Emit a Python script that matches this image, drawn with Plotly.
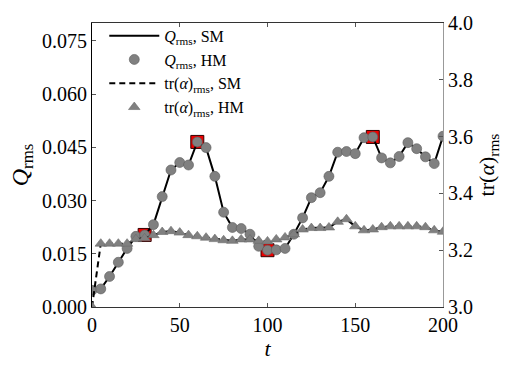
import plotly.graph_objects as go

# Sampling times
t = [0, 5, 10, 15, 20, 25, 30, 35, 40, 45, 50, 55, 60, 65, 70, 75, 80, 85, 90, 95,
     100, 105, 110, 115, 120, 125, 130, 135, 140, 145, 150, 155, 160, 165, 170, 175,
     180, 185, 190, 195, 200]

# RMS of Q (left axis)
q_rms = [0.0047, 0.0051, 0.0086, 0.0126, 0.0165, 0.0199, 0.0203, 0.0232, 0.0311, 0.0386,
         0.0407, 0.0400, 0.0465, 0.0449, 0.0368, 0.0267, 0.0224, 0.0221, 0.0205, 0.0171,
         0.0160, 0.0161, 0.0165, 0.0205, 0.0251, 0.0308, 0.0322, 0.0368, 0.0436, 0.0438,
         0.0432, 0.0477, 0.0479, 0.0420, 0.0406, 0.0424, 0.0463, 0.0446, 0.0423, 0.0404,
         0.0481]

# RMS of tr(alpha) (right axis)
tr_rms = [3.000, 3.223, 3.223, 3.223, 3.223, 3.239, 3.242, 3.253, 3.264, 3.267,
          3.262, 3.253, 3.249, 3.244, 3.239, 3.235, 3.233, 3.238, 3.238, 3.233,
          3.231, 3.238, 3.245, 3.256, 3.273, 3.278, 3.278, 3.280, 3.300, 3.309,
          3.284, 3.270, 3.273, 3.281, 3.284, 3.284, 3.284, 3.284, 3.281, 3.270,
          3.265]

# Snapshot times highlighted on the Q curve
snap_t = [30, 60, 100, 160]
snap_q = [q_rms[t.index(s)] for s in snap_t]

q_ticks = [0.0, 0.015, 0.030, 0.045, 0.060, 0.075]
tr_ticks = [3.0, 3.2, 3.4, 3.6, 3.8, 4.0]
t_ticks = [0, 50, 100, 150, 200]

FONT = "Liberation Serif"
GREY = "#808080"
TICKFONT = dict(family=FONT, size=20, color="black")

fig = go.Figure()

fig.add_trace(go.Scatter(
    x=snap_t, y=snap_q, mode="markers", showlegend=False,
    marker=dict(symbol="square", size=13, color="#ee0000",
                line=dict(color="#330000", width=1)),
))
fig.add_trace(go.Scatter(
    x=t, y=q_rms, mode="lines", name="<i>Q</i><sub>rms</sub>, SM",
    line=dict(color="black", width=2),
))
fig.add_trace(go.Scatter(
    x=t, y=q_rms, mode="markers", name="<i>Q</i><sub>rms</sub>, HM",
    marker=dict(symbol="circle", size=10, color=GREY,
                line=dict(color="#5a5a5a", width=0.6)),
))
fig.add_trace(go.Scatter(
    x=t, y=tr_rms, mode="lines", name="tr(<i>α</i>)<sub>rms</sub>, SM",
    yaxis="y2", line=dict(color="black", width=2, dash="6px,4px"),
))
fig.add_trace(go.Scatter(
    x=t, y=tr_rms, mode="markers", name="tr(<i>α</i>)<sub>rms</sub>, HM",
    yaxis="y2",
    marker=dict(symbol="triangle-up", size=10, color=GREY,
                line=dict(color="#6a6a6a", width=0.6)),
))

fig.update_layout(
    width=516, height=365,
    margin=dict(l=92, r=73, t=13, b=49),
    paper_bgcolor="white", plot_bgcolor="white",
    font=dict(family=FONT, size=20, color="black"),
    showlegend=True,
    legend=dict(x=0.035, y=1.015, xanchor="left", yanchor="top",
                bgcolor="rgba(0,0,0,0)", font=dict(family=FONT, size=16),
                tracegroupgap=0, itemwidth=50),
    xaxis=dict(
        range=[0, 200], tickvals=t_ticks, ticks="inside", ticklen=4,
        tickcolor="#555", showline=True, linecolor="#333", linewidth=1.2,
        mirror="ticks", showgrid=False, zeroline=False, tickfont=TICKFONT,
        title=dict(text="<i>t</i>", standoff=2, font=dict(family=FONT, size=22)),
    ),
    yaxis=dict(
        range=[0, 0.08], tickvals=q_ticks, tickformat=".3f", ticks="inside",
        ticklen=4, tickcolor="#555", showline=True, linecolor="black",
        linewidth=1.2, showgrid=False, zeroline=False, tickfont=TICKFONT,
        title=dict(text="<i>Q</i><sub>rms</sub>", standoff=6,
                   font=dict(family=FONT, size=24)),
    ),
    yaxis2=dict(
        range=[3.0, 4.0], tickvals=tr_ticks, tickformat=".1f", ticks="inside",
        ticklen=4, tickcolor="#555", overlaying="y", side="right",
        showline=True, linecolor="#999", linewidth=1.2, showgrid=False,
        zeroline=False, tickfont=TICKFONT,
        title=dict(text="tr(<i>α</i>)<sub>rms</sub>", standoff=6,
                   font=dict(family=FONT, size=22)),
    ),
)

fig.write_html("out.html")
